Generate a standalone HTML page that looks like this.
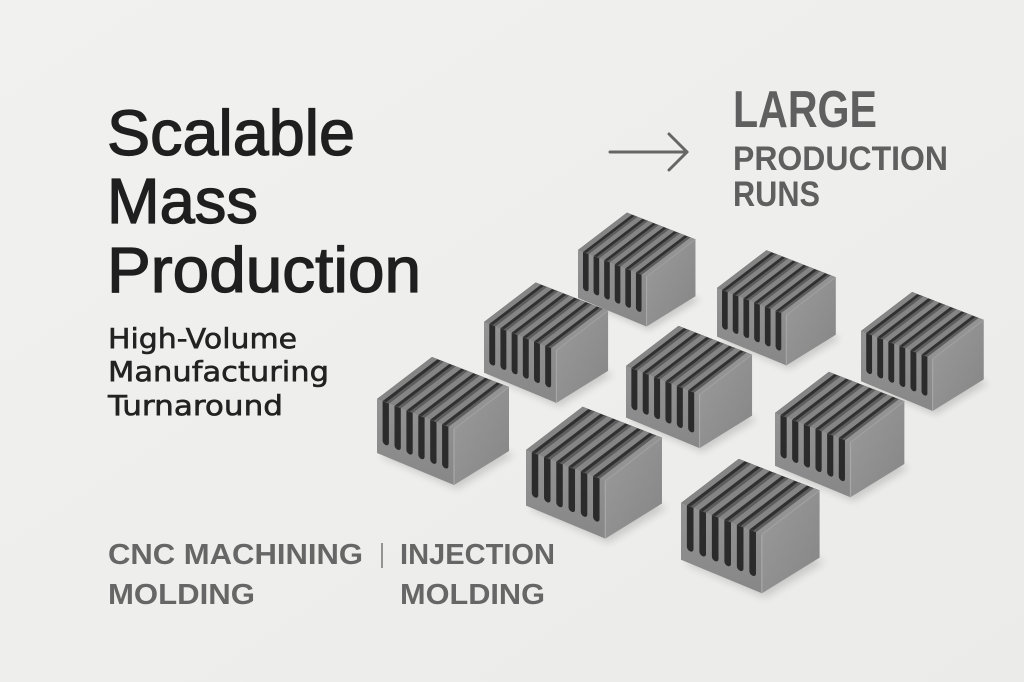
<!DOCTYPE html>
<html>
<head>
<meta charset="utf-8">
<style>
  html, body { margin: 0; padding: 0; background: #eeeeec; }
  body { width: 1024px; height: 682px; overflow: hidden; }
  svg { display: block; }
</style>
</head>
<body>
<svg width="1024" height="682" viewBox="0 0 1024 682" xmlns="http://www.w3.org/2000/svg">
  <defs>
    <linearGradient id="bg" x1="0" y1="0" x2="1" y2="1">
      <stop offset="0" stop-color="#f1f1ef"/>
      <stop offset="1" stop-color="#ebebe9"/>
    </linearGradient>
    <linearGradient id="rg" x1="0" y1="0" x2="1" y2="1">
      <stop offset="0" stop-color="#9b9b9b"/>
      <stop offset="1" stop-color="#858585"/>
    </linearGradient>
    <linearGradient id="fg" x1="0" y1="0" x2="0" y2="1">
      <stop offset="0" stop-color="#939393"/>
      <stop offset="1" stop-color="#878787"/>
    </linearGradient>
    <filter id="blur" x="-30%" y="-30%" width="160%" height="160%">
      <feGaussianBlur stdDeviation="4"/>
    </filter>
    <g id="hs">
      <!-- shadow -->
      <polygon points="3,57 80,90 137,56 60,24" fill="#000" opacity="0.15" filter="url(#blur)"/>
      <!-- top face (fins seen from above) -->
      <g transform="matrix(1 0.39 55 -42 0 0)">
        <rect x="0" y="0" width="77" height="1" fill="#303030"/>
        <rect x="8.9" y="0" width="3" height="1" fill="#5e5e5e"/>
        <rect x="20.8" y="0" width="3" height="1" fill="#5e5e5e"/>
        <rect x="32.7" y="0" width="3" height="1" fill="#5e5e5e"/>
        <rect x="44.6" y="0" width="3" height="1" fill="#5e5e5e"/>
        <rect x="56.5" y="0" width="3" height="1" fill="#5e5e5e"/>
        <rect x="68.4" y="0" width="3" height="1" fill="#5e5e5e"/>
        <rect x="0" y="0" width="5.6" height="1" fill="#858585"/>
        <rect x="11.9" y="0" width="5.6" height="1" fill="#858585"/>
        <rect x="23.8" y="0" width="5.6" height="1" fill="#858585"/>
        <rect x="35.7" y="0" width="5.6" height="1" fill="#858585"/>
        <rect x="47.6" y="0" width="5.6" height="1" fill="#858585"/>
        <rect x="59.5" y="0" width="5.6" height="1" fill="#858585"/>
        <rect x="71.4" y="0" width="5.6" height="1" fill="#939393"/>
      </g>
      <!-- front face -->
      <polygon points="0,0 77,30 77,86 0,54" fill="url(#fg)"/>
      <g transform="matrix(1 0.39 0 1 0 0)" fill="#2b2b2b">
        <path d="M5.6 0 h6.3 v39.5 a3.15 3.15 0 0 1 -6.3 0 z"/>
        <path d="M17.5 0 h6.3 v39.5 a3.15 3.15 0 0 1 -6.3 0 z"/>
        <path d="M29.4 0 h6.3 v39.5 a3.15 3.15 0 0 1 -6.3 0 z"/>
        <path d="M41.3 0 h6.3 v39.5 a3.15 3.15 0 0 1 -6.3 0 z"/>
        <path d="M53.2 0 h6.3 v39.5 a3.15 3.15 0 0 1 -6.3 0 z"/>
        <path d="M65.1 0 h6.3 v39.5 a3.15 3.15 0 0 1 -6.3 0 z"/>
      </g>
      <!-- right face -->
      <polygon points="77,30 132,-12 132,52 77,86" fill="url(#rg)"/>
      <line x1="77" y1="30" x2="77" y2="86" stroke="#a8a8a8" stroke-width="1.2"/>
      <line x1="77" y1="30" x2="132" y2="-12" stroke="#a2a2a2" stroke-width="1"/>
    </g>
  </defs>

  <rect x="0" y="0" width="1024" height="682" fill="url(#bg)"/>

  <!-- Title -->
  <g font-family="'Liberation Sans', Arial, sans-serif" font-size="64" fill="#1f1f1f" stroke="#1f1f1f" stroke-width="1.3">
    <text x="107" y="155" textLength="248" lengthAdjust="spacingAndGlyphs">Scalable</text>
    <text x="107" y="223" textLength="151" lengthAdjust="spacingAndGlyphs">Mass</text>
    <text x="107" y="292" textLength="314" lengthAdjust="spacingAndGlyphs">Production</text>
  </g>

  <!-- Subtitle -->
  <g font-family="'DejaVu Sans', 'Liberation Sans', sans-serif" font-size="28" fill="#222" stroke="#222" stroke-width="0.6">
    <text x="108" y="348" textLength="189" lengthAdjust="spacingAndGlyphs">High-Volume</text>
    <text x="108" y="381" textLength="221" lengthAdjust="spacingAndGlyphs">Manufacturing</text>
    <text x="108" y="415" textLength="175" lengthAdjust="spacingAndGlyphs">Turnaround</text>
  </g>

  <!-- Arrow -->
  <g stroke="#666" stroke-width="3" fill="none" stroke-linecap="round" stroke-linejoin="round">
    <line x1="610" y1="152" x2="687" y2="152"/>
    <polyline points="669,134 687,152 669,170"/>
  </g>

  <!-- Large production runs -->
  <g font-family="'Liberation Sans Narrow', 'Liberation Sans', Arial, sans-serif" font-weight="bold" fill="#5f5f5f">
    <text x="733" y="127" font-size="52" textLength="144" lengthAdjust="spacingAndGlyphs">LARGE</text>
    <text x="733" y="170" font-size="34" textLength="215" lengthAdjust="spacingAndGlyphs">PRODUCTION</text>
    <text x="733" y="206" font-size="35" textLength="87" lengthAdjust="spacingAndGlyphs">RUNS</text>
  </g>

  <!-- Bottom labels -->
  <g font-family="'Liberation Sans', Arial, sans-serif" font-weight="bold" font-size="29" fill="#666">
    <text x="108" y="564" textLength="255" lengthAdjust="spacingAndGlyphs">CNC MACHINING</text>
    <text x="108" y="604" textLength="147" lengthAdjust="spacingAndGlyphs">MOLDING</text>
    <text x="400" y="564" textLength="155" lengthAdjust="spacingAndGlyphs">INJECTION</text>
    <text x="400" y="604" textLength="145" lengthAdjust="spacingAndGlyphs">MOLDING</text>
  </g>
  <line x1="382" y1="543" x2="382" y2="568" stroke="#777" stroke-width="1.5"/>

  <!-- Heatsinks (back to front) -->
  <use href="#hs" transform="translate(578,250) scale(0.89)"/>
  <use href="#hs" transform="translate(717,288) scale(0.9)"/>
  <use href="#hs" transform="translate(484,322) scale(0.94)"/>
  <use href="#hs" transform="translate(861,331) scale(0.93)"/>
  <use href="#hs" transform="translate(626,366) scale(0.955)"/>
  <use href="#hs" transform="translate(377,399) scale(1)"/>
  <use href="#hs" transform="translate(775,413) scale(0.98)"/>
  <use href="#hs" transform="translate(526,450) scale(1.03)"/>
  <use href="#hs" transform="translate(681,503) scale(1.05)"/>
</svg>
</body>
</html>
